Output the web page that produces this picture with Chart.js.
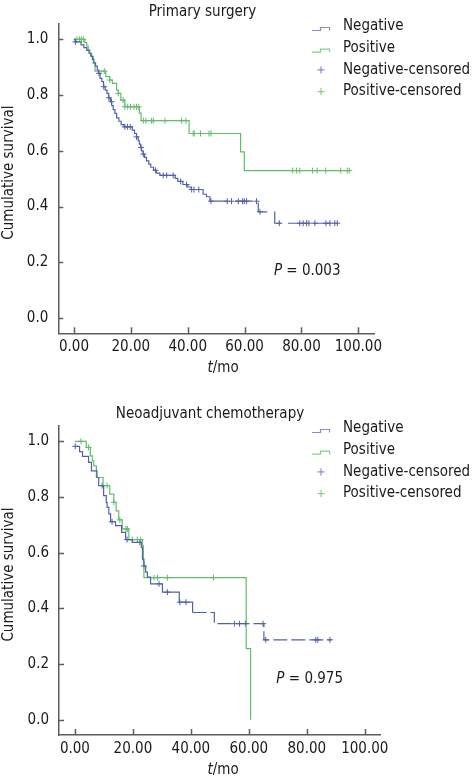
<!DOCTYPE html>
<html>
<head>
<meta charset="utf-8">
<script src="https://cdn.jsdelivr.net/npm/chart.js@4.4.1/dist/chart.umd.min.js"></script>
<style>
  html, body { margin: 0; padding: 0; background: #fff; }
  #wrap { position: relative; width: 472px; height: 781px; }
  canvas { position: absolute; left: 0; }
</style>
</head>
<body>
<div id="wrap">
  <canvas id="surgery" width="472" height="390" style="top:0"></canvas>
  <canvas id="chemo" width="472" height="391" style="top:390px"></canvas>
</div>
<script>
const legendLabels = ['Negative', 'Positive', 'Negative-censored', 'Positive-censored'];
const xTicks = [0, 20, 40, 60, 80, 100];
const yTicks = [0, 0.2, 0.4, 0.6, 0.8, 1.0];

// Primary surgery - [months, cumulative survival after the step]
const surgNegSteps = [[0, 1.0], [0.4, 0.991], [2.5, 0.980], [3.5, 0.970], [4.5, 0.960], [5.3, 0.950], [5.9, 0.940],
  [6.5, 0.928], [7.0, 0.916], [7.6, 0.904], [8.2, 0.890], [8.7, 0.878], [9.2, 0.860], [9.8, 0.848], [10.4, 0.830],
  [11.0, 0.818], [11.6, 0.806], [12.2, 0.790], [12.8, 0.776], [13.3, 0.762], [13.8, 0.748], [14.4, 0.734],
  [15.0, 0.718], [15.8, 0.706], [16.6, 0.694], [17.6, 0.686], [20.5, 0.674], [21.3, 0.662], [22.0, 0.650],
  [22.6, 0.636], [23.0, 0.624], [23.4, 0.612], [23.8, 0.600], [24.3, 0.588], [24.8, 0.576], [25.5, 0.564],
  [26.3, 0.552], [27.0, 0.541], [28.0, 0.530], [29.0, 0.520], [30.2, 0.512], [35.6, 0.501], [36.5, 0.490],
  [38.3, 0.479], [40.0, 0.470], [41.2, 0.461], [45.4, 0.444], [46.6, 0.435], [47.8, 0.419], [64.8, 0.381],
  [70.6, 0.340]];
const surgNegEnd = 92.6;
const surgNegCensored = [0.5, 8.8, 10.5, 12.3, 13.2, 17.9, 18.8, 19.8, 22.0, 23.6, 24.4, 28.7, 31.4, 32.6, 34.9,
  37.5, 39.6, 41.4, 42.2, 43.9, 48.2, 53.9, 55.4, 57.8, 59.3, 59.9, 60.7, 64.2, 65.4, 72.2, 79.4, 80.6, 81.8,
  82.6, 84.7, 88.6, 90.0, 91.7, 92.6];

const surgPosSteps = [[0, 1.0], [3.8, 0.988], [4.5, 0.976], [5.0, 0.962], [5.6, 0.950], [6.2, 0.938], [6.8, 0.914],
  [7.4, 0.886], [11.2, 0.866], [12.6, 0.854], [13.5, 0.842], [15.0, 0.818], [15.6, 0.806], [16.5, 0.782],
  [17.9, 0.758], [23.0, 0.735], [23.6, 0.708], [40.5, 0.662], [58.6, 0.596], [59.9, 0.529]];
const surgPosEnd = 96.8;
const surgPosCensored = [1.0, 2.0, 2.6, 3.3, 10.7, 12.6, 15.6, 17.3, 17.9, 18.9, 19.9, 21.1, 22.0, 22.8, 24.4,
  25.3, 27.3, 27.9, 32.0, 37.9, 39.4, 41.9, 42.3, 44.5, 47.5, 48.2, 76.9, 78.3, 79.4, 83.9, 85.5, 88.5, 93.8,
  96.1, 96.8];

// Neoadjuvant chemotherapy
const chemoNegSteps = [[0, 0.982], [1.6, 0.963], [2.6, 0.946], [4.7, 0.924], [5.7, 0.894], [7.6, 0.870],
  [8.2, 0.841], [9.9, 0.805], [10.8, 0.780], [11.1, 0.763], [11.7, 0.739], [12.3, 0.711], [14.0, 0.697],
  [16.1, 0.673], [17.5, 0.647], [19.8, 0.637], [22.9, 0.619], [23.3, 0.577], [23.8, 0.552], [24.4, 0.530],
  [25.0, 0.512], [26.1, 0.488], [30.2, 0.458], [36.0, 0.422], [40.6, 0.385], [48.1, 0.345], [65.2, 0.287]];
const chemoNegEnd = 88.5;
const chemoNegCensored = [0.1, 9.4, 12.8, 18.0, 22.4, 23.8, 29.0, 31.9, 36.2, 38.3, 55.0, 56.8, 58.8, 64.9, 65.8,
  83.1, 83.8, 88.0];

const chemoPosSteps = [[0, 1.0], [3.9, 0.978], [5.3, 0.948], [6.0, 0.930], [6.5, 0.912], [7.4, 0.870], [9.7, 0.841],
  [12.0, 0.810], [13.4, 0.781], [14.2, 0.750], [15.1, 0.718], [16.3, 0.685], [18.6, 0.647], [23.3, 0.625],
  [23.6, 0.568], [23.8, 0.510], [59.1, 0.255], [60.6, 0.0]];
const chemoPosEnd = 60.6;
const chemoPosCensored = [2.1, 4.7, 11.1, 13.4, 15.5, 17.6, 18.1, 19.8, 21.5, 22.7, 27.3, 28.5, 31.9, 47.8];

const FONT = '"DejaVu Sans Condensed", "Liberation Sans", Arial, sans-serif';
const TEXT = '#1a1a1a';
const AXIS = '#5c5c5c';
const BLUE = '#5161a9';
const GREEN = '#63bd6c';
const BLUE_LIGHT = '#8591c6';
const GREEN_LIGHT = '#86cf8d';

function curve(steps, end) {
  const pts = steps.map(([t, s]) => ({ x: t, y: s }));
  const last = steps[steps.length - 1];
  if (end > last[0]) pts.push({ x: end, y: last[1] });
  return pts;
}

function survAt(steps, t) {
  let s = steps[0][1];
  steps.forEach(([ti, si]) => { if (ti <= t) s = si; });
  return s;
}

const overlay = {
  id: 'overlay',
  afterDraw(chart, args, o) {
    const ctx = chart.ctx;
    const a = chart.chartArea;
    const xs = chart.scales.x, ys = chart.scales.y;
    ctx.save();

    // tick marks point into the plot
    ctx.strokeStyle = AXIS;
    ctx.lineWidth = 1.5;
    xTicks.forEach(v => {
      const px = Math.round(xs.getPixelForValue(v)) + 0.5;
      ctx.beginPath(); ctx.moveTo(px, a.bottom); ctx.lineTo(px, a.bottom - 6); ctx.stroke();
    });
    yTicks.forEach(v => {
      const py = Math.round(ys.getPixelForValue(v)) + 0.5;
      ctx.beginPath(); ctx.moveTo(a.left, py); ctx.lineTo(a.left + 5, py); ctx.stroke();
    });

    ctx.fillStyle = TEXT;
    ctx.textBaseline = 'middle';
    ctx.font = '15px ' + FONT;
    ctx.textAlign = 'center';
    ctx.fillText(o.title, o.titleX, a.top - 12);

    ctx.save();
    ctx.translate(9.5, (a.top + a.bottom) / 2 - 6);
    ctx.rotate(-Math.PI / 2);
    ctx.fillText('Cumulative survival', 0, 0);
    ctx.restore();

    // t/mo with italic t
    ctx.textAlign = 'left';
    let x = 207.5;
    let y = a.bottom + 35;
    ctx.font = 'italic 15px ' + FONT;
    ctx.fillText('t', x, y);
    x += ctx.measureText('t').width;
    ctx.font = '15px ' + FONT;
    ctx.fillText('/mo', x, y);

    // P value
    x = xs.getPixelForValue(o.pAt[0]);
    y = ys.getPixelForValue(o.pAt[1]);
    ctx.font = 'italic 15px ' + FONT;
    ctx.fillText('P', x, y);
    x += ctx.measureText('P').width;
    ctx.font = '15px ' + FONT;
    ctx.fillText(' = ' + o.pValue, x, y);

    // legend
    const colors = [BLUE_LIGHT, GREEN_LIGHT, BLUE_LIGHT, GREEN_LIGHT];
    legendLabels.forEach((label, i) => {
      const ry = a.top + 2.5 + i * 21.7;
      ctx.strokeStyle = colors[i];
      ctx.lineWidth = 1.2;
      ctx.beginPath();
      if (i < 2) {
        ctx.moveTo(312, ry + 4); ctx.lineTo(320.5, ry + 4); ctx.lineTo(320.5, ry + 1);
        ctx.lineTo(329.5, ry + 1); ctx.lineTo(329.5, ry + 4);
      } else {
        ctx.moveTo(317.5, ry); ctx.lineTo(324.5, ry);
        ctx.moveTo(321, ry - 3.5); ctx.lineTo(321, ry + 3.5);
      }
      ctx.stroke();
      ctx.fillStyle = TEXT;
      ctx.fillText(label, 343, ry);
    });
    ctx.restore();
  }
};

function makeChart(id, cfg) {
  const canvas = document.getElementById(id);
  const H = canvas.height, W = canvas.width;
  const stepLine = (steps, end, color, dashFrom, dash) => ({
    type: 'line',
    data: curve(steps, end),
    borderColor: color,
    borderWidth: 1.2,
    pointRadius: 0,
    stepped: 'before',
    fill: false,
    segment: { borderDash: c => (c.p0.parsed.x >= dashFrom ? dash : undefined) }
  });
  const marks = (steps, times, color) => ({
    type: 'scatter',
    data: times.map(t => ({ x: t, y: survAt(steps, t) })),
    pointStyle: 'cross',
    pointRadius: 3,
    borderColor: color,
    borderWidth: 1,
    showLine: false
  });
  return new Chart(canvas, {
    type: 'scatter',
    data: {
      datasets: [
        stepLine(cfg.neg, cfg.negEnd, BLUE, cfg.dashFrom, cfg.dash),
        stepLine(cfg.pos, cfg.posEnd, GREEN, Infinity, undefined),
        marks(cfg.neg, cfg.negCens, BLUE),
        marks(cfg.pos, cfg.posCens, GREEN)
      ]
    },
    options: {
      responsive: false,
      animation: false,
      devicePixelRatio: 1,
      layout: { padding: { left: 0, right: W - cfg.area.right, top: cfg.area.top, bottom: 0 } },
      plugins: {
        legend: { display: false },
        tooltip: { enabled: false },
        overlay: { title: cfg.title, titleX: cfg.titleX, pAt: cfg.pAt, pValue: cfg.pValue }
      },
      scales: {
        x: {
          type: 'linear', min: -5.5, max: 105.5,
          afterBuildTicks: s => { s.ticks = xTicks.map(v => ({ value: v })); },
          afterFit: s => { s.height = H - cfg.area.bottom; },
          grid: { display: false, drawTicks: false },
          border: { display: true, color: AXIS, width: 1.5 },
          ticks: { padding: 5, color: TEXT, font: { family: FONT, size: 15 }, maxRotation: 0, autoSkip: false,
            callback: v => Number(v).toFixed(2) }
        },
        y: {
          type: 'linear', min: -0.055, max: 1.055,
          afterBuildTicks: s => { s.ticks = yTicks.map(v => ({ value: v })); },
          afterFit: s => { s.width = cfg.area.left; },
          grid: { display: false, drawTicks: false },
          border: { display: true, color: AXIS, width: 1.5 },
          ticks: { padding: 10, color: TEXT, font: { family: FONT, size: 15 }, autoSkip: false,
            callback: v => Number(v).toFixed(1) }
        }
      }
    },
    plugins: [overlay]
  });
}

makeChart('surgery', {
  title: 'Primary surgery', titleX: 202.5, pAt: [70.3, 0.168], pValue: '0.003',
  area: { left: 58.3, right: 374, top: 24, bottom: 333.3 },
  neg: surgNegSteps, negEnd: surgNegEnd, negCens: surgNegCensored,
  pos: surgPosSteps, posEnd: surgPosEnd, posCens: surgPosCensored,
  dashFrom: 47.8, dash: [18, 7]
});

makeChart('chemo', {
  title: 'Neoadjuvant chemotherapy', titleX: 210, pAt: [69.5, 0.144], pValue: '0.975',
  area: { left: 59, right: 380.7, top: 36, bottom: 345 },
  neg: chemoNegSteps, negEnd: chemoNegEnd, negCens: chemoNegCensored,
  pos: chemoPosSteps, posEnd: chemoPosEnd, posCens: chemoPosCensored,
  dashFrom: 40.6, dash: [14, 4]
});
</script>
</body>
</html>
